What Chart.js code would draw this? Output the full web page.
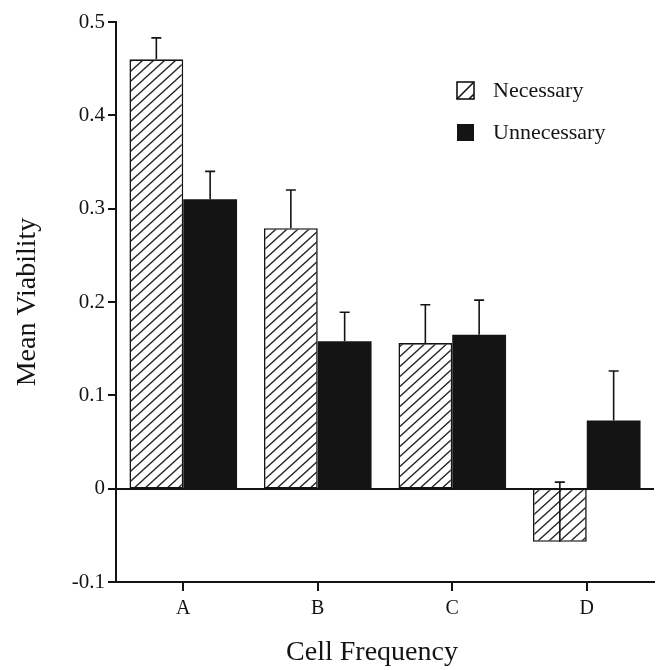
<!DOCTYPE html>
<html>
<head>
<meta charset="utf-8">
<script src="https://cdn.jsdelivr.net/npm/chart.js@4.4.1/dist/chart.umd.min.js"></script>
<style>
  html, body { margin: 0; padding: 0; background: #fff; }
  #wrap { width: 656px; height: 670px; }
</style>
</head>
<body>
<div id="wrap"><canvas id="myChart" width="656" height="670"></canvas></div>
<script>
const categories = ["A", "B", "C", "D"];
const necessary = [0.46, 0.279, 0.156, -0.057];
const necessaryErr = [0.023, 0.041, 0.041, 0.064];
const unnecessary = [0.31, 0.158, 0.165, 0.073];
const unnecessaryErr = [0.03, 0.031, 0.037, 0.053];

const ink = "#141414";
const serif = "'Liberation Serif', 'Times New Roman', serif";

// diagonal hatch fill
function makeHatch() {
  const w = 11, h = 10;
  const c = document.createElement("canvas");
  c.width = w;
  c.height = h;
  const g = c.getContext("2d");
  g.fillStyle = "#fff";
  g.fillRect(0, 0, w, h);
  g.strokeStyle = "#262626";
  g.lineWidth = 1.3;
  g.beginPath();
  // one stroke per tile, extended into neighbours so the seams join
  for (let k = -1; k <= 1; k++) {
    g.moveTo(k * w - w, h * 2);
    g.lineTo(k * w + w * 2, -h);
  }
  g.stroke();
  return g.createPattern(c, "repeat");
}
const hatch = makeHatch();

const errorBars = {
  id: "errorBars",
  afterDatasetsDraw(chart) {
    const ctx = chart.ctx;
    const y = chart.scales.y;
    const errs = [necessaryErr, unnecessaryErr];
    ctx.save();
    ctx.strokeStyle = ink;
    ctx.lineWidth = 1.6;
    chart.data.datasets.forEach(function (ds, di) {
      const meta = chart.getDatasetMeta(di);
      meta.data.forEach(function (bar, i) {
        const v = ds.data[i];
        const y0 = y.getPixelForValue(v);
        const y1 = y.getPixelForValue(v + errs[di][i]);
        ctx.beginPath();
        ctx.moveTo(bar.x, y0);
        ctx.lineTo(bar.x, y1);
        ctx.moveTo(bar.x - 5, y1);
        ctx.lineTo(bar.x + 5, y1);
        ctx.stroke();
      });
    });
    ctx.restore();
  },
};

const extras = {
  id: "extras",
  afterDraw(chart) {
    const ctx = chart.ctx;
    ctx.save();
    // legend
    const rows = [91, 133];
    chart.data.datasets.forEach(function (ds, i) {
      const cy = rows[i];
      const x = 457, s = 17, top = cy - 9;
      if (i === 0) {
        ctx.fillStyle = "#fff";
        ctx.fillRect(x, top, s, s);
        ctx.strokeStyle = ink;
        ctx.lineWidth = 1.6;
        ctx.strokeRect(x, top, s, s);
        ctx.beginPath();
        ctx.moveTo(x, top + s);
        ctx.lineTo(x + s, top);
        ctx.moveTo(x + s - 5, top + s);
        ctx.lineTo(x + s, top + s - 5);
        ctx.stroke();
      } else {
        ctx.fillStyle = ink;
        ctx.fillRect(x, top, s, s);
      }
      ctx.fillStyle = ink;
      ctx.font = "22px " + serif;
      ctx.textBaseline = "middle";
      ctx.textAlign = "left";
      ctx.fillText(ds.label, 493, cy);
    });
    // x axis title
    ctx.font = "28px " + serif;
    ctx.textAlign = "center";
    ctx.textBaseline = "middle";
    ctx.fillText("Cell Frequency", 372, 653);
    ctx.restore();
  },
};

const ctx = document.querySelector("#myChart");
new Chart(ctx, {
  type: "bar",
  data: {
    labels: categories,
    datasets: [
      {
        label: "Necessary",
        data: necessary,
        backgroundColor: hatch,
        borderColor: ink,
        borderWidth: 1.6,
        borderSkipped: false,
      },
      {
        label: "Unnecessary",
        data: unnecessary,
        backgroundColor: ink,
        borderWidth: 0,
      },
    ],
  },
  options: {
    responsive: false,
    animation: false,
    layout: { padding: { top: 22, right: 2, left: 0, bottom: 0 } },
    datasets: { bar: { barPercentage: 1, categoryPercentage: 0.8 } },
    plugins: { legend: { display: false }, tooltip: { enabled: false } },
    scales: {
      x: {
        afterFit: function (scale) { scale.height = 88; },
        grid: {
          offset: false,
          drawOnChartArea: false,
          tickColor: ink,
          tickLength: 9,
          lineWidth: 2,
        },
        border: { display: true, color: ink, width: 2 },
        ticks: { color: ink, padding: 6, font: { family: serif, size: 20 } },
      },
      y: {
        min: -0.1,
        max: 0.5,
        afterFit: function (scale) { scale.width = 116; },
        grid: {
          color: function (c) { return Math.abs(c.tick.value) < 1e-9 ? ink : "transparent"; },
          tickColor: ink,
          tickLength: 8,
          lineWidth: 2,
        },
        border: { display: true, color: ink, width: 2 },
        ticks: {
          stepSize: 0.1,
          color: ink,
          padding: 3,
          font: { family: serif, size: 21 },
          callback: function (v) { return Math.abs(v) < 1e-9 ? "0" : v.toFixed(1); },
        },
        title: {
          display: true,
          text: "Mean Viability",
          color: ink,
          padding: { top: 11, bottom: 0 },
          font: { family: serif, size: 28 },
        },
      },
    },
  },
  plugins: [errorBars, extras],
});
</script>
</body>
</html>
